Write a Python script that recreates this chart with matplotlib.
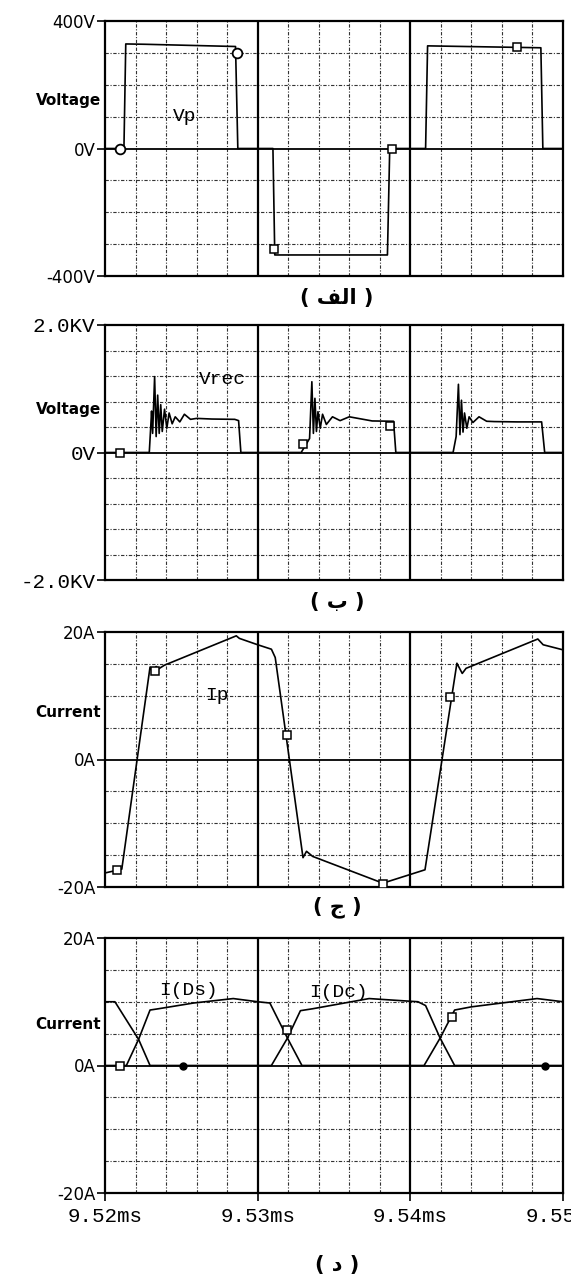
import matplotlib

matplotlib.use("Agg")
import matplotlib.pyplot as plt
from matplotlib.transforms import blended_transform_factory
import numpy as np

# time axis: microseconds after 9.52 ms
T0_MS = 9.52

# (الف) primary voltage Vp
vp_t = [0, 1.24, 1.36, 2.6, 8.55, 8.7, 11.0, 11.12, 18.5, 18.65, 21.0, 21.13, 28.55, 28.68, 30]
vp_v = [0, 0, 328, 327, 320, 0, 0, -334, -334, 0, 0, 322, 316, 0, 0]
vp_sq_t = [11.07, 18.8, 27.0]
vp_sq_v = [-315, 0, 318]
vp_ci_t = [0.98, 8.64]
vp_ci_v = [0, 300]

# (ب) rectifier voltage Vrec
vrec_t = [0, 2.9, 3.0, 3.05, 3.12, 3.25, 3.35, 3.45, 3.55, 3.65, 3.75, 3.9, 4.05, 4.2, 4.4,
          4.6, 4.9, 5.2, 5.6, 6.0, 7.0, 8.5, 8.75, 8.9,
          12.85, 13.15, 13.4, 13.55, 13.65, 13.75, 13.85, 13.95, 14.1, 14.25, 14.5, 14.9,
          15.4, 16.0, 17.5, 18.9, 19.05,
          22.8, 23.0, 23.15, 23.25, 23.35, 23.45, 23.55, 23.7, 23.85, 24.1, 24.5, 25.0,
          25.5, 27.0, 28.6, 28.8, 30]
vrec_v = [0, 0, 420, 650, 300, 1190, 250, 900, 300, 750, 330, 680, 380, 620, 450,
          560, 480, 600, 520, 535, 525, 520, 500, 0,
          0, 120, 220, 1110, 300, 850, 330, 640, 380, 600, 440, 560,
          500, 560, 495, 490, 0,
          0, 250, 1070, 280, 820, 320, 620, 380, 560, 470, 560, 490,
          485, 480, 480, 0, 0]
vrec_sq_t = [0.98, 13.0, 18.65]
vrec_sq_v = [0, 140, 420]

# (ج) primary current Ip
ip_t = [0, 1.1, 2.95, 3.15, 3.35, 3.5, 3.9, 8.6, 8.8, 10.0, 10.9, 11.15, 12.97, 13.2,
        13.6, 18.2, 20.96, 23.05, 23.4, 23.65, 28.35, 28.7, 30]
ip_a = [-17.8, -17.2, 14.5, 13.6, 14.6, 14.2, 14.8, 19.4, 19.0, 18.0, 17.3, 16.0, -15.4, -14.4,
        -15.2, -19.4, -17.3, 15.1, 13.5, 14.3, 18.9, 18.0, 17.2]
ip_sq_t = [0.8, 3.3, 11.9, 18.2, 22.6]
ip_sq_a = [-17.3, 13.9, 3.8, -19.5, 9.8]

# (د) diode currents
ids_t = [0, 1.4, 2.2, 2.95, 3.5, 5.8, 8.4, 10.0, 10.8, 11.95, 12.9, 20.9, 21.95, 22.9, 24.0, 28.3, 30]
ids_a = [0, 0, 4.1, 8.7, 8.9, 9.8, 10.5, 10.0, 9.8, 4.3, 0, 0, 4.3, 8.7, 9.2, 10.5, 10.0]
idc_t = [0, 0.65, 2.2, 2.95, 10.9, 11.95, 12.8, 13.6, 17.3, 20.5, 21.0, 21.95, 22.9, 30]
idc_a = [10.0, 10.0, 4.1, 0, 0, 4.3, 8.6, 8.9, 10.5, 10.0, 9.4, 4.3, 0, 0]
ids_sq_t = [0.98, 11.9, 22.7]
ids_sq_a = [0, 5.5, 7.6]
idc_dot_t = [5.1, 28.8]
idc_dot_a = [0, 0]

X_TICKS = [9.52, 9.53, 9.54, 9.55]
X_TICKLABELS = ["9.52ms", "9.53ms", "9.54ms", "9.55ms"]

CAPTIONS = ["( \ufed2\ufedf\ufe8d )", "( \u0628 )", "( \u062c )", "( \u062f )"]

MONO = "Liberation Mono"
SANS = "DejaVu Sans"
GRID_LS = (0, (3, 1.5, 1, 1.5))


def ms(t_us):
    return T0_MS + np.asarray(t_us) / 1000.0


def setup_panel(ax, ymax, ndiv, yticklabels, ylabel, ylabel_y, mono=False, show_x=False):
    ax.set_xlim(9.52, 9.55)
    ax.set_ylim(-ymax, ymax)
    step = 0.01 / 5
    for k in range(1, 15):
        if k % 5:
            ax.axvline(9.52 + k * step, color="#333333", lw=0.8, ls=GRID_LS, zorder=1)
    for k in range(1, ndiv):
        for s in (1, -1):
            ax.axhline(s * ymax * k / ndiv, color="#333333", lw=0.8, ls=GRID_LS, zorder=1)
    for x in (9.53, 9.54):
        ax.axvline(x, color="black", lw=1.6, zorder=2)
    ax.axhline(0, color="black", lw=1.3, zorder=2)
    for sp in ax.spines.values():
        sp.set_linewidth(1.6)
    ax.set_yticks([ymax, 0, -ymax], yticklabels)
    ax.tick_params(axis="y", length=6, width=1.2, pad=1)
    for lbl in ax.get_yticklabels():
        if mono:
            lbl.set_fontfamily(MONO)
            lbl.set_fontsize(15)
        else:
            lbl.set_fontfamily(SANS)
            lbl.set_fontsize(12)
    if show_x:
        ax.set_xticks(X_TICKS, X_TICKLABELS, fontfamily=MONO, fontsize=15)
        ax.tick_params(axis="x", length=6, width=1.2, pad=4)
    else:
        ax.set_xticks([])
    tr = blended_transform_factory(ax.transAxes, ax.transData)
    ax.text(-0.008, ylabel_y, ylabel, transform=tr, ha="right", va="center",
            fontsize=11, fontweight="bold", family=SANS)


fig = plt.figure(figsize=(5.71, 12.88), dpi=100)
W = 458 / 571
L = 105 / 571
H = 255 / 1288
ax1 = fig.add_axes([L, 1 - 276 / 1288, W, H])
ax2 = fig.add_axes([L, 1 - 580 / 1288, W, H])
ax3 = fig.add_axes([L, 1 - 887 / 1288, W, H])
ax4 = fig.add_axes([L, 1 - 1193 / 1288, W, H])

setup_panel(ax1, 400, 4, ["400V", "0V", "-400V"], "Voltage", 150)
setup_panel(ax2, 2000, 5, ["2.0KV", "0V", "-2.0KV"], "Voltage", 680, mono=True)
setup_panel(ax3, 20, 4, ["20A", "0A", "-20A"], "Current", 7.4)
setup_panel(ax4, 20, 4, ["20A", "0A", "-20A"], "Current", 6.5, show_x=True)

trace = dict(color="black", lw=1.2, zorder=3)
sq = dict(ls="none", marker="s", ms=6, mfc="white", mec="black", mew=1.1, zorder=4)
ci = dict(ls="none", marker="o", ms=7, mfc="white", mec="black", mew=1.3, zorder=4)
dot = dict(ls="none", marker="o", ms=5, color="black", zorder=4)
lbl = dict(family=MONO, fontsize=14, ha="center", va="center", zorder=5)

ax1.plot(ms(vp_t), vp_v, **trace)
ax1.plot(ms(vp_sq_t), vp_sq_v, **sq)
ax1.plot(ms(vp_ci_t), vp_ci_v, **ci)
ax1.text(ms(5.2), 100, "Vp", **lbl)

ax2.plot(ms(vrec_t), vrec_v, **trace)
ax2.plot(ms(vrec_sq_t), vrec_sq_v, **sq)
ax2.text(ms(7.7), 1150, "Vrec", **lbl)

ax3.plot(ms(ip_t), ip_a, **trace)
ax3.plot(ms(ip_sq_t), ip_sq_a, **sq)
ax3.text(ms(7.3), 10.1, "Ip", **lbl)

ax4.plot(ms(ids_t), ids_a, **trace)
ax4.plot(ms(idc_t), idc_a, **trace)
ax4.plot(ms(ids_sq_t), ids_sq_a, **sq)
ax4.plot(ms(idc_dot_t), idc_dot_a, **dot)
ax4.text(ms(5.5), 11.8, "I(Ds)", **lbl)
ax4.text(ms(15.3), 11.5, "I(Dc)", **lbl)

for cap, ypx in zip(CAPTIONS, [298, 602, 907, 1265]):
    fig.text(337 / 571, 1 - ypx / 1288, cap, ha="center", va="center",
             fontsize=15, fontweight="bold", family=SANS)

fig.savefig("out.png", dpi=100)
